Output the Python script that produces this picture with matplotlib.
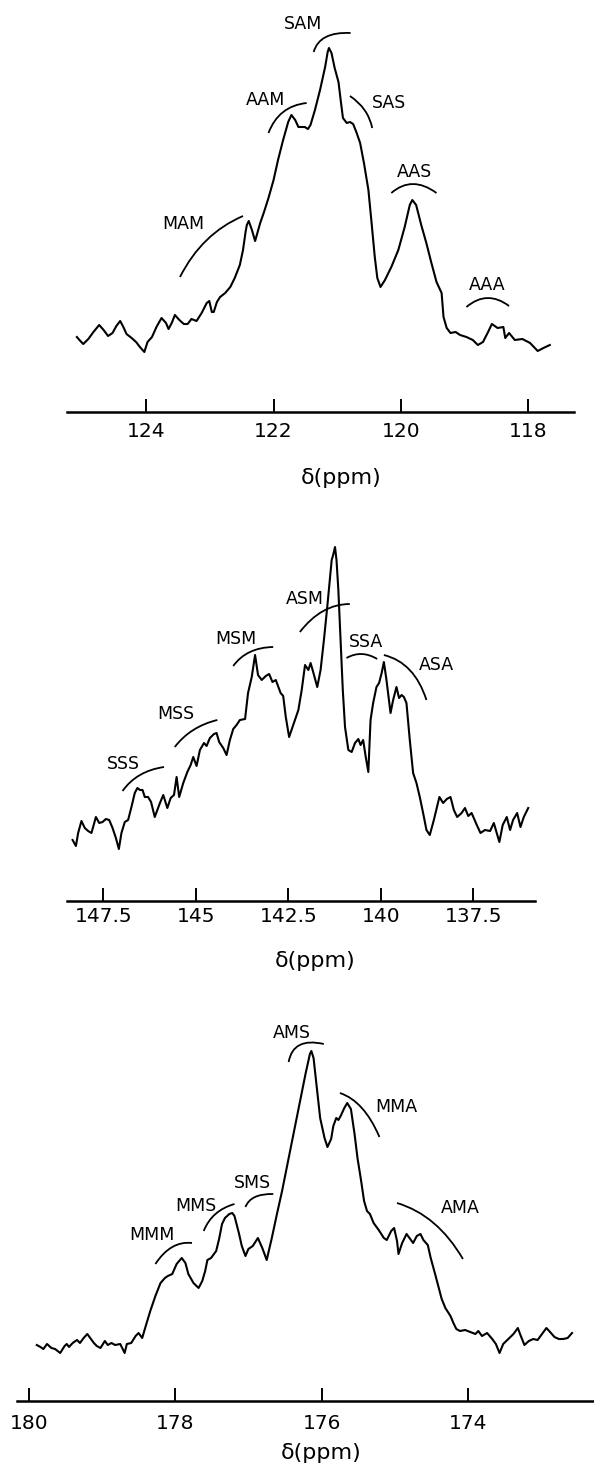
import matplotlib
matplotlib.use("Agg")
import matplotlib.pyplot as plt
from matplotlib.path import Path
from matplotlib.patches import PathPatch

# %%
# Data (chemical shift in ppm, intensity in arbitrary units)

# Top panel: CN carbon region
p1_ppm = [125.09, 125.05, 124.99, 124.91, 124.83, 124.74, 124.67, 124.60, 124.53, 124.47,
          124.41, 124.36, 124.31, 124.23, 124.16, 124.10, 124.03, 123.98, 123.91, 123.84,
          123.76, 123.69, 123.65, 123.60, 123.55, 123.48, 123.41, 123.35, 123.29, 123.21,
          123.13, 123.05, 123.01, 122.97, 122.94, 122.89, 122.84, 122.76, 122.68, 122.61,
          122.53, 122.48, 122.44, 122.42, 122.39, 122.34, 122.29, 122.21, 122.15, 122.08,
          122.00, 121.93, 121.85, 121.77, 121.72, 121.66, 121.61, 121.56, 121.51, 121.46,
          121.42, 121.35, 121.27, 121.19, 121.15, 121.13, 121.09, 121.04, 120.98, 120.94,
          120.91, 120.85, 120.80, 120.75, 120.70, 120.64, 120.58, 120.51, 120.46, 120.41,
          120.37, 120.32, 120.25, 120.15, 120.04, 119.94, 119.86, 119.82, 119.76, 119.68,
          119.60, 119.52, 119.44, 119.36, 119.33, 119.28, 119.22, 119.14, 119.07, 118.97,
          118.87, 118.79, 118.71, 118.63, 118.57, 118.48, 118.39, 118.36, 118.30, 118.21,
          118.09, 117.97, 117.85, 117.76, 117.66]
p1_int = [75, 72, 68, 73, 80, 87, 82, 76, 79, 86,
          91, 85, 78, 74, 70, 65, 60, 70, 75, 85,
          94, 89, 83, 89, 97, 92, 88, 88, 93, 91,
          99, 109, 111, 100, 100, 110, 115, 119, 125, 134,
          147, 162, 180, 187, 191, 182, 171, 189, 200, 214,
          232, 252, 272, 290, 297, 292, 285, 285, 285, 283,
          287, 302, 322, 345, 360, 364, 359, 344, 330, 309,
          294, 289, 290, 288, 280, 269, 249, 222, 189, 155,
          134, 125, 132, 145, 162, 185, 207, 212, 207, 187,
          169, 149, 130, 119, 95, 84, 79, 80, 77, 75,
          72, 67, 70, 80, 88, 84, 85, 74, 79, 72,
          73, 69, 61, 64, 67]
p1_ticks = [124, 122, 120, 118]
p1_names = ["MAM", "AAM", "SAM", "SAS", "AAS", "AAA"]
p1_text = [(123.42, 188), (122.12, 312), (121.53, 388), (120.19, 309), (119.79, 240), (118.65, 127)]
p1_arcs = [((123.47, 135), (123.05, 172), (122.48, 196)),
           ((122.08, 279), (121.85, 300), (121.48, 309)),
           ((121.37, 360), (121.18, 375), (120.79, 379)),
           ((120.80, 316), (120.57, 302), (120.45, 284)),
           ((120.15, 219), (119.81, 228), (119.44, 219)),
           ((118.97, 105), (118.64, 114), (118.30, 106))]

# Middle panel: aromatic carbon region
p2_ppm = [148.33, 148.24, 148.18, 148.09, 148.00, 147.91, 147.82, 147.70, 147.61, 147.52,
          147.43, 147.34, 147.25, 147.16, 147.08, 147.01, 146.92, 146.83, 146.74, 146.65,
          146.58, 146.51, 146.44, 146.38, 146.29, 146.21, 146.11, 145.97, 145.88, 145.77,
          145.68, 145.59, 145.52, 145.45, 145.34, 145.23, 145.14, 145.07, 144.98, 144.89,
          144.78, 144.71, 144.62, 144.51, 144.44, 144.37, 144.26, 144.17, 144.08, 143.99,
          143.90, 143.81, 143.67, 143.59, 143.49, 143.40, 143.32, 143.22, 143.11, 143.02,
          142.93, 142.84, 142.77, 142.71, 142.64, 142.57, 142.48, 142.37, 142.23, 142.14,
          142.05, 141.96, 141.90, 141.83, 141.72, 141.63, 141.54, 141.45, 141.38, 141.33,
          141.29, 141.24, 141.20, 141.15, 141.09, 141.03, 140.97, 140.88, 140.79, 140.70,
          140.61, 140.55, 140.48, 140.41, 140.34, 140.28, 140.21, 140.12, 140.05, 139.98,
          139.92, 139.85, 139.74, 139.67, 139.58, 139.51, 139.44, 139.38, 139.31, 139.22,
          139.13, 139.04, 138.95, 138.86, 138.77, 138.68, 138.57, 138.42, 138.32, 138.22,
          138.12, 138.03, 137.94, 137.82, 137.73, 137.64, 137.55, 137.41, 137.31, 137.19,
          137.05, 136.95, 136.80, 136.71, 136.60, 136.51, 136.43, 136.32, 136.23, 136.14,
          136.02]
p2_int = [61, 55, 68, 80, 73, 70, 68, 84, 78, 79,
          82, 81, 73, 63, 52, 68, 79, 81, 94, 108,
          113, 111, 111, 104, 104, 99, 84, 98, 106, 93,
          103, 106, 124, 104, 118, 129, 136, 144, 135, 151,
          158, 155, 163, 167, 168, 159, 153, 146, 161, 172,
          176, 181, 182, 208, 224, 246, 226, 221, 225, 227,
          219, 221, 214, 208, 205, 184, 164, 176, 191, 211,
          236, 231, 238, 229, 214, 231, 261, 294, 321, 341,
          346, 354, 341, 311, 261, 211, 174, 151, 149, 158,
          162, 156, 161, 144, 129, 181, 198, 214, 218, 228,
          239, 221, 188, 201, 214, 203, 206, 204, 198, 161,
          128, 118, 104, 88, 71, 66, 81, 104, 98, 102,
          104, 91, 84, 88, 93, 85, 88, 76, 68, 71,
          70, 78, 59, 76, 84, 71, 81, 88, 74, 84,
          93]
p2_ticks = [147.5, 145, 142.5, 140, 137.5]
p2_names = ["SSS", "MSS", "MSM", "ASM", "SSA", "ASA"]
p2_text = [(146.96, 137), (145.53, 187), (143.92, 262), (142.05, 302), (140.40, 259), (138.51, 236)]
p2_arcs = [((146.98, 110), (146.51, 126), (145.86, 134)),
           ((145.57, 154), (145.07, 171), (144.42, 181)),
           ((143.99, 235), (143.54, 249), (142.91, 254)),
           ((142.19, 269), (141.56, 290), (140.84, 297)),
           ((140.93, 243), (140.52, 247), (140.10, 242)),
           ((139.92, 246), (139.22, 231), (138.77, 201))]

# Bottom panel: carbonyl carbon region
p3_ppm = [179.89, 179.84, 179.80, 179.75, 179.69, 179.64, 179.57, 179.51, 179.48, 179.45,
          179.40, 179.34, 179.30, 179.25, 179.20, 179.16, 179.11, 179.07, 179.02, 178.96,
          178.92, 178.87, 178.82, 178.75, 178.69, 178.66, 178.60, 178.54, 178.50, 178.45,
          178.41, 178.34, 178.27, 178.20, 178.14, 178.10, 178.04, 177.98, 177.91, 177.86,
          177.82, 177.75, 177.68, 177.63, 177.59, 177.56, 177.51, 177.44, 177.40, 177.36,
          177.32, 177.26, 177.22, 177.19, 177.13, 177.09, 177.04, 177.00, 176.94, 176.87,
          176.81, 176.75, 176.68, 176.61, 176.54, 176.22, 176.16, 176.14, 176.11, 176.06,
          176.02, 175.96, 175.92, 175.87, 175.84, 175.80, 175.77, 175.74, 175.69, 175.65,
          175.60, 175.55, 175.51, 175.46, 175.42, 175.38, 175.34, 175.29, 175.22, 175.15,
          175.11, 175.05, 175.01, 174.97, 174.95, 174.90, 174.84, 174.80, 174.75, 174.70,
          174.65, 174.61, 174.55, 174.51, 174.45, 174.40, 174.36, 174.31, 174.24, 174.20,
          174.16, 174.11, 174.04, 173.97, 173.90, 173.86, 173.81, 173.74, 173.67, 173.62,
          173.57, 173.52, 173.45, 173.38, 173.32, 173.29, 173.23, 173.17, 173.11, 173.05,
          172.99, 172.93, 172.88, 172.82, 172.76, 172.70, 172.64, 172.58]
p3_int = [56, 54, 52, 57, 53, 52, 48, 55, 57, 54,
          58, 61, 58, 63, 67, 63, 58, 55, 53, 60,
          56, 58, 56, 57, 48, 57, 58, 65, 68, 63,
          73, 90, 105, 118, 123, 125, 127, 137, 143, 138,
          127, 118, 113, 120, 130, 141, 143, 150, 162, 177,
          183, 187, 188, 185, 168, 155, 145, 152, 155, 163,
          153, 141, 163, 187, 210, 327, 347, 350, 343, 310,
          283, 263, 254, 262, 275, 283, 281, 285, 293, 298,
          292, 267, 243, 220, 200, 190, 187, 178, 171, 163,
          161, 170, 173, 160, 147, 158, 167, 163, 158, 165,
          167, 161, 156, 143, 127, 113, 102, 93, 85, 78,
          72, 70, 71, 69, 67, 70, 65, 68, 62, 57,
          48, 57, 62, 67, 73, 67, 56, 60, 62, 61,
          67, 73, 69, 64, 62, 62, 63, 68]
p3_ticks = [180, 178, 176, 174]
p3_names = ["MMM", "MMS", "SMS", "AMS", "MMA", "AMA"]
p3_text = [(178.32, 166), (177.72, 195), (176.95, 218), (176.40, 368), (174.98, 294), (174.10, 193)]
p3_arcs = [((178.27, 137), (178.04, 154), (177.77, 158)),
           ((177.61, 170), (177.45, 187), (177.19, 197)),
           ((177.04, 194), (176.91, 204), (176.66, 207)),
           ((176.45, 339), (176.30, 356), (175.97, 357)),
           ((175.75, 308), (175.45, 293), (175.21, 264)),
           ((174.97, 198), (174.47, 178), (174.07, 142))]

# %%
# Figure layout (pixel boxes: left, right, axis line y, top y) and axis limits
W, H = 594, 1474
fig = plt.figure(figsize=(W / 100, H / 100), dpi=100)
fig.patch.set_facecolor("white")

panels = [
    dict(box=(66.7, 574, 412, 10), xlim=(125.25, 117.28), ymax=402,
         ppm=p1_ppm, inten=p1_int, ticks=p1_ticks, ticklabels=["124", "122", "120", "118"],
         names=p1_names, text=p1_text, arcs=p1_arcs, pad=7.0, xlab=(0.541, -0.164)),
    dict(box=(67.4, 534.9, 901, 520), xlim=(148.47, 135.84), ymax=381,
         ppm=p2_ppm, inten=p2_int, ticks=p2_ticks,
         ticklabels=["147.5", "145", "142.5", "140", "137.5"],
         names=p2_names, text=p2_text, arcs=p2_arcs, pad=4.1, xlab=(0.529, -0.157)),
    dict(box=(17, 594, 1401, 1010), xlim=(180.16, 172.28), ymax=391,
         ppm=p3_ppm, inten=p3_int, ticks=p3_ticks, ticklabels=["180", "178", "176", "174"],
         names=p3_names, text=p3_text, arcs=p3_arcs, pad=9.3, xlab=(0.527, -0.133)),
]


def draw_arc(ax, start, mid, end):
    # quadratic curve passing through the middle point
    ctrl = (2 * mid[0] - 0.5 * (start[0] + end[0]), 2 * mid[1] - 0.5 * (start[1] + end[1]))
    path = Path([start, ctrl, end], [Path.MOVETO, Path.CURVE3, Path.CURVE3])
    ax.add_patch(PathPatch(path, facecolor="none", edgecolor="black", lw=1.3))


for p in panels:
    left, right, base, top = p["box"]
    ax = fig.add_axes([left / W, 1 - base / H, (right - left) / W, (base - top) / H])
    ax.plot(p["ppm"], p["inten"], color="black", lw=1.5)
    ax.set_xlim(*p["xlim"])
    ax.set_ylim(0, p["ymax"])

    for name, (x, y) in zip(p["names"], p["text"]):
        ax.text(x, y, name, fontsize=12.5, ha="center", va="center")
    for start, mid, end in p["arcs"]:
        draw_arc(ax, start, mid, end)

    for side in ["left", "right", "top"]:
        ax.spines[side].set_visible(False)
    ax.spines["bottom"].set_linewidth(1.8)
    ax.set_yticks([])
    ax.set_xticks(p["ticks"])
    ax.set_xticklabels(p["ticklabels"])
    ax.tick_params(axis="x", direction="in", length=9.5, width=1.4, labelsize=14.5, pad=p["pad"])
    ax.set_xlabel("δ(ppm)", fontsize=16)
    ax.xaxis.label.set_va("center")
    ax.xaxis.set_label_coords(*p["xlab"])
    ax.patch.set_alpha(0)

fig.savefig("out.png", dpi=100, facecolor="white")
